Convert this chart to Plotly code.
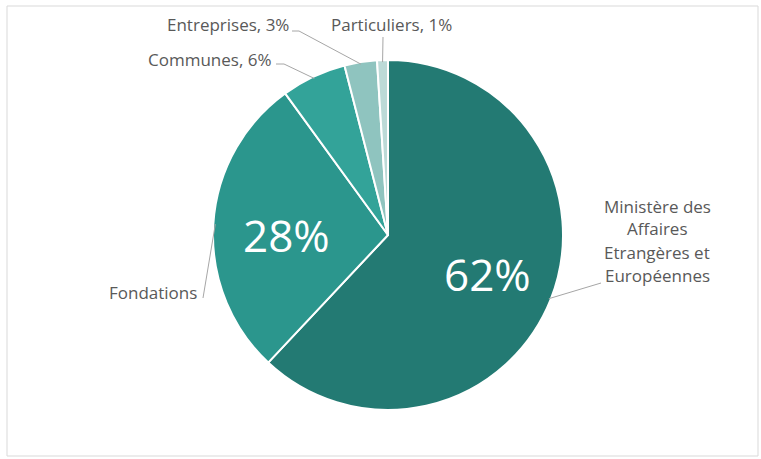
import math
import plotly.graph_objects as go

# ---- data ----
labels = ["Ministère des Affaires Etrangères et Européennes", "Fondations",
          "Communes", "Entreprises", "Particuliers"]
values = [62, 28, 6, 3, 1]
colors = ["#237a73", "#2b968d", "#33a399", "#8fc4bf", "#bcdad7"]
short_labels = ["Ministère des<br>Affaires<br>Etrangères et<br>Européennes",
                "Fondations", "Communes", "Entreprises", "Particuliers"]

W, H = 761, 459
CX, CY, R = 388, 235, 175  # pie layout (pixels)


def px(x):
    return x / W


def py(y):
    return 1 - y / H


total = sum(values)
pcts = [round(v * 100 / total) for v in values]

# mid angles (clockwise from 12 o'clock)
mids = []
cum = 0
for v in values:
    mids.append((cum + v / 2) / total * 2 * math.pi)
    cum += v


def pt(theta, r):
    return CX + r * math.sin(theta), CY - r * math.cos(theta)


fig = go.Figure(go.Pie(
    labels=labels, values=values, sort=False, direction="clockwise",
    marker=dict(colors=colors, line=dict(color="white", width=2)),
    textinfo="none", hoverinfo="label+percent",
    domain=dict(x=[px(CX - R), px(CX + R)], y=[py(CY + R), py(CY - R)]),
    showlegend=False,
))

FONT = "Open Sans"
GRAY = "#595959"
LINE = "#a6a6a6"
FS = 17
ann = []
shapes = []

# big inside percentages
for i, rf, ys in [(0, 0.61, 0), (1, 0.58, -6)]:
    x, y = pt(mids[i], R * rf)
    ann.append(dict(x=px(x), y=py(y), xref="paper", yref="paper", yshift=ys,
                    text=f"{pcts[i]}%", showarrow=False,
                    font=dict(family=FONT, size=44, color="white")))

# outside labels: (index, text anchor point, anchor, leader path points from label)
outside = [
    (1, (199, 292), "right", [(203, 298)]),
    (2, (274, 60), "right", [(276, 64), (284, 64)]),
    (3, (291, 25), "right", [(292, 31), (299, 31)]),
    (4, (329, 25), "left", [(383, 37)]),
]
for i, (lx, ly), anchor, pts in outside:
    text = f"{short_labels[i]}, {pcts[i]}%" if i != 1 else short_labels[i]
    ann.append(dict(x=px(lx), y=py(ly), xref="paper", yref="paper",
                    text=text, showarrow=False, xanchor=anchor, yanchor="middle",
                    font=dict(family=FONT, size=FS, color=GRAY)))
    ex, ey = pt(mids[i], R - 2)
    path_pts = pts + [(ex, ey)]
    d = "M " + " L ".join(f"{px(a)},{py(b)}" for a, b in path_pts)
    shapes.append(dict(type="path", path=d, xref="paper", yref="paper",
                       line=dict(color=LINE, width=1)))

# Ministère multi-line label
lines = short_labels[0].split("<br>")
for k, t in enumerate(lines):
    ann.append(dict(x=px(657), y=py(206 + 23 * k), xref="paper", yref="paper",
                    text=t, showarrow=False, xanchor="center", yanchor="middle",
                    font=dict(family=FONT, size=FS, color=GRAY)))
ex, ey = pt(mids[0], R - 2)
shapes.append(dict(type="path",
                   path=f"M {px(ex)},{py(ey)} L {px(601)},{py(283)}",
                   xref="paper", yref="paper", line=dict(color=LINE, width=1)))

# frame
shapes.append(dict(type="rect", xref="paper", yref="paper",
                   x0=px(7), y0=py(456), x1=px(758), y1=py(6),
                   line=dict(color="#d9d9d9", width=1)))

fig.update_layout(
    width=W, height=H, margin=dict(l=0, r=0, t=0, b=0),
    paper_bgcolor="white", plot_bgcolor="white",
    annotations=ann, shapes=shapes,
)
fig.write_html("out.html", config={"displayModeBar": False},
               post_script="document.body.style.margin='0';document.body.style.overflow='hidden';")
